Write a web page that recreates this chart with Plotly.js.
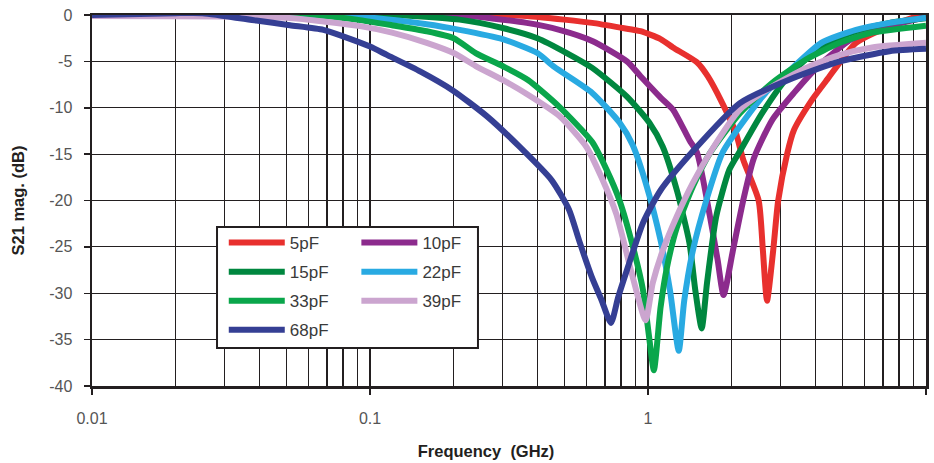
<!DOCTYPE html>
<html>
<head>
<meta charset="utf-8">
<script src="https://cdn.plot.ly/plotly-3.0.1.min.js"></script>
<style>html,body{margin:0;padding:0;background:#fff;}#chart{width:934px;height:463px;}</style>
</head>
<body>
<div id="chart"></div>
<script>
// ---- data (frequency in GHz, S21 magnitude in dB) ----
const names = ['5pF','10pF','15pF','22pF','33pF','39pF','68pF'];
const colors = ['#E8302E','#8C2B8D','#00873F','#29AAE2','#0AA64B','#CBA5CF','#353F94'];

const f5  = [0.01,0.05,0.2,0.366,0.5,0.63,0.81,0.94,1.11,1.23,1.5,1.64,1.85,2.07,2.2,2.5,2.59,2.68,2.82,2.94,3.17,3.35,3.9,4.4,5.6,7.4,10];
const db5 = [0.3,0.3,0.2,-0.1,-0.5,-0.85,-1.4,-1.75,-2.6,-3.5,-5.1,-6.6,-9.5,-12.7,-15.6,-20,-25.4,-30.8,-25.4,-20,-14.9,-12.4,-9.1,-7.0,-3.0,-1.2,0.2];

const f10  = [0.01,0.1,0.21,0.366,0.48,0.63,0.84,0.94,1.11,1.23,1.41,1.5,1.67,1.78,1.87,2.02,2.2,2.4,2.8,3.35,4.1,5.4,7.4,10];
const db10 = [0.3,0.3,0,-0.85,-1.6,-2.8,-5.0,-6.6,-8.9,-10.2,-13.5,-14.8,-21.7,-26.4,-30.2,-25.4,-20,-15.5,-11.3,-8.4,-5.5,-2.6,-1.2,-0.2];

const f15  = [0.01,0.092,0.21,0.30,0.40,0.51,0.63,0.84,1.01,1.13,1.27,1.41,1.48,1.56,1.63,1.76,1.96,2.14,2.57,3.2,4.2,5.6,7.4,10];
const db15 = [0.3,0.2,-0.5,-1.4,-2.5,-4.1,-5.7,-8.8,-11.6,-14.2,-18.9,-24.6,-29.7,-33.8,-28.9,-21.7,-16.7,-14.7,-10.6,-6.6,-3.4,-1.75,-0.85,-0.35];

const f22  = [0.01,0.092,0.16,0.21,0.30,0.40,0.46,0.63,0.79,0.88,0.99,1.11,1.2,1.29,1.35,1.45,1.62,1.85,2.14,2.65,3.2,4.2,5.6,7.4,10];
const db22 = [0.3,-0.2,-1.0,-1.6,-2.6,-4.1,-5.6,-8.4,-11.6,-14.0,-18.5,-24.3,-29.7,-36.2,-30.8,-25.4,-20,-14.9,-12.0,-8.4,-6.1,-3.0,-1.6,-0.85,-0.3];

const f33  = [0.01,0.05,0.092,0.12,0.16,0.2,0.24,0.30,0.37,0.48,0.63,0.71,0.79,0.89,0.96,1.01,1.05,1.11,1.17,1.27,1.45,1.67,2.14,2.8,3.7,4.9,6.4,10];
const db33 = [0.4,0.3,-0.55,-1.1,-1.75,-2.5,-4.1,-5.5,-7.0,-9.9,-13.7,-16.7,-20,-25.4,-29.7,-34.8,-38.3,-31.5,-27.2,-22.9,-18.5,-14.9,-10.6,-7.3,-4.8,-3.0,-1.9,-1.15];

const f39  = [0.01,0.05,0.092,0.12,0.16,0.2,0.24,0.30,0.37,0.48,0.6,0.68,0.77,0.88,0.98,1.04,1.13,1.27,1.45,1.7,2.14,2.8,3.7,4.9,6.4,10];
const db39 = [-0.1,-0.3,-1.2,-1.9,-3.0,-4.1,-5.5,-7.0,-8.6,-10.9,-14.2,-17.5,-21.5,-28.2,-32.9,-28.9,-25.4,-21.7,-18.1,-14.5,-10.2,-7.7,-5.7,-4.3,-3.5,-3.0];

const f68  = [0.01,0.02,0.025,0.039,0.0515,0.068,0.08,0.1,0.115,0.152,0.198,0.263,0.345,0.45,0.52,0.565,0.627,0.68,0.736,0.78,0.84,0.96,1.11,1.45,2.14,3.2,4.9,7.4,10];
const db68 = [0,0.2,0.2,-0.6,-1.1,-1.6,-2.3,-3.4,-4.3,-6.1,-8.1,-10.9,-14.2,-17.8,-21.0,-24.3,-28.2,-30.7,-33.2,-30.5,-27.5,-22.4,-18.9,-14.7,-9.5,-7.0,-5.0,-3.9,-3.65];

const xs = [f5,f10,f15,f22,f33,f39,f68];
const ys = [db5,db10,db15,db22,db33,db39,db68];
const legendOf = ['legend','legend2','legend','legend2','legend','legend2','legend'];

const yTickVals = [0,-5,-10,-15,-20,-25,-30,-35,-40];
const yTickText = ['0','-5','-10','-15','-20','-25','-30','-35','-40'];
const xTickVals = [0.01,0.1,1,10];
const xTickText = ['0.01','0.1','1','10'];

const ink = '#231F20';
const traces = names.map((n,i)=>({
  type:'scatter', mode:'lines', name:n, x:xs[i], y:ys[i],
  line:{color:colors[i], width:6, shape:'spline', smoothing:0.6}, cliponaxis:false,
  legend:legendOf[i], legendgroup:n, hoverinfo:'skip'
}));

const legFont = {family:'Liberation Sans, Arial, sans-serif', size:17, color:'#3a3a3a'};
const nb = '\u00A0';
const layout = {
  width:934, height:463,
  margin:{l:92, r:8, t:15, b:77},
  paper_bgcolor:'#fff', plot_bgcolor:'#fff',
  font:{family:'Liberation Sans, Arial, sans-serif', color:'#555'},
  xaxis:{
    type:'log', range:[-2,1], tickvals:xTickVals, ticktext:xTickText,
    showgrid:true, gridcolor:ink, gridwidth:1.2,
    minor:{dtick:'D1', showgrid:true, gridcolor:ink, gridwidth:1.2, ticks:''},
    showline:true, linecolor:ink, linewidth:2.5, mirror:true,
    ticks:'outside', ticklen:6, tickcolor:ink, tickwidth:1.5, ticklabelstandoff:10,
    tickfont:{size:16, color:'#555'}, zeroline:false,
    title:{text:'Frequency' + nb + ' (GHz)' + nb.repeat(10) + '\u200B', font:{size:16.5, color:ink, weight:'bold'}, standoff:20}
  },
  yaxis:{
    range:[-40,0], tickvals:yTickVals, ticktext:yTickText,
    showgrid:true, gridcolor:ink, gridwidth:1.2,
    showline:true, linecolor:ink, linewidth:2.5, mirror:true,
    ticks:'outside', ticklen:6, tickcolor:ink, tickwidth:1.5, ticklabelstandoff:8,
    tickfont:{size:16, color:'#555'}, zeroline:false,
    title:{text:'S21 mag. (dB)', font:{size:16.5, color:ink, weight:'bold'}, standoff:21}
  },
  showlegend:true,
  legend:{x:0.158, y:0.434, xanchor:'left', yanchor:'top', bgcolor:'rgba(0,0,0,0)', borderwidth:0,
          font:legFont, itemwidth:56, tracegroupgap:4, traceorder:'grouped'},
  legend2:{x:0.317, y:0.434, xanchor:'left', yanchor:'top', bgcolor:'rgba(0,0,0,0)', borderwidth:0,
          font:legFont, itemwidth:56, tracegroupgap:4, traceorder:'grouped'},
  shapes:[{type:'rect', xref:'paper', yref:'paper', x0:0.1499, x1:0.4628, y0:0.1024, y1:0.4286,
           line:{color:ink, width:2}, fillcolor:'#fff', layer:'above'}]
};
Plotly.newPlot('chart', traces, layout, {displayModeBar:false, staticPlot:true});
</script>
</body>
</html>
